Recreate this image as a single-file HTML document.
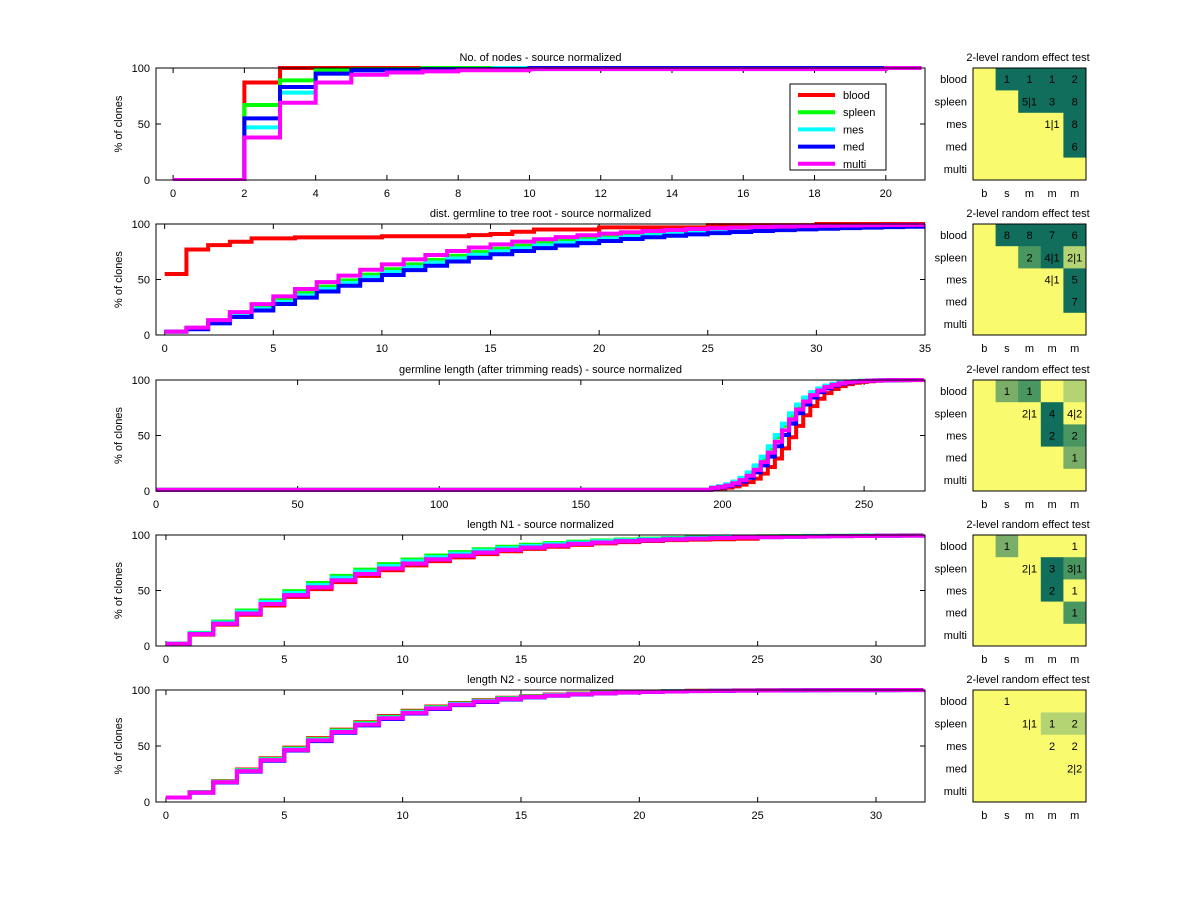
<!DOCTYPE html>
<html><head><meta charset="utf-8"><style>
body{margin:0;background:#fff;}
svg text{font-family:"Liberation Sans",sans-serif;font-size:11px;fill:#000;}
</style></head><body>
<svg id="s" width="1200" height="901" xmlns="http://www.w3.org/2000/svg"></svg>
<script>
const S=document.getElementById('s');let out='';
const cols={blood:'#ff0000',spleen:'#00ff00',mes:'#00ffff',med:'#0000ff',multi:'#ff00ff'};
const names=['blood','spleen','mes','med','multi'];
const panels=[
 {t:'No. of nodes - source normalized',y0:68,y1:180,xmin:-0.48,xmax:21.1,ticks:[0,2,4,6,8,10,12,14,16,18,20],x0:156,x1:925},
 {t:'dist. germline to tree root - source normalized',y0:224,y1:335,xmin:-0.4,xmax:35,ticks:[0,5,10,15,20,25,30,35]},
 {t:'germline length (after trimming reads) - source normalized',y0:380,y1:491,xmin:0,xmax:271.5,ticks:[0,50,100,150,200,250]},
 {t:'length N1 - source normalized',y0:535,y1:646,xmin:-0.42,xmax:32.07,ticks:[0,5,10,15,20,25,30]},
 {t:'length N2 - source normalized',y0:690,y1:802,xmin:-0.42,xmax:32.07,ticks:[0,5,10,15,20,25,30]}];
const X0=156,X1=925;
function wb(x,a,p){return 100*(1-Math.exp(-Math.pow(Math.max(x,0)/a,p)));}
const data=[
 {blood:[[0,0],[2,87],[3,100],[21,100]],
  spleen:[[0,0],[2,67],[3,89],[4,98],[5,99],[7,100],[21,100]],
  mes:[[0,0],[2,47],[3,78],[4,95],[5,98],[7,99],[9,100],[21,100]],
  med:[[0,0],[2,55],[3,83],[4,95],[5,98],[7,99],[10,100],[21,100]],
  multi:[[0,0],[2,38],[3,69],[4,87],[5,94],[6,96],[7,97],[8,98],[10,99],[20,100],[21,100]]},
 {blood:[[0,55],[1,77],[2,81],[3,84],[4,87],[6,88],[10,89],[14,90],[15,91],[16,93],[17,95],[20,97],[25,99],[30,100],[35,100]]},
 {},{},{}];
// generate others
[['spleen',11.2],['mes',11.8],['med',12.5],['multi',10.2]].forEach(([n,a])=>{let p=[];for(let x=0;x<=35;x++)p.push([x,Math.max(3,wb(x+0.3,a,1.3))]);data[1][n]=p;});
[['blood',224],['spleen',219],['mes',218.5],['med',221],['multi',220]].forEach(([n,m])=>{let p=[[0,1]];for(let x=196;x<=270;x+=2.5)p.push([x,1+99/(1+Math.exp(-(x-m)/6))]);p.push([271,100]);data[2][n]=p;});
[['blood',8.3],['spleen',7.3],['mes',7.6],['med',8.0],['multi',8.0]].forEach(([n,a])=>{let p=[];let xe=n=='blood'?25:32;for(let x=0;x<=xe;x++){let v=wb(x+0.3,a,1.2);if(n=='blood'&&x>=15)v=Math.min(v,93+(x-15)*0.4);p.push([x,v]);}data[3][n]=p;});
[['blood',7.1],['spleen',7.2],['mes',7.3],['med',7.5],['multi',7.4]].forEach(([n,a])=>{let p=[];for(let x=0;x<=32;x++)p.push([x,Math.max(4,wb(x+0.3,a,1.4))]);data[4][n]=p;});
panels.forEach((P,i)=>{
 const sx=x=>X0+(x-P.xmin)/(P.xmax-P.xmin)*(X1-X0);
 const sy=y=>P.y1-y/100*(P.y1-P.y0);
 out+=`<text x="${(X0+X1)/2}" y="${P.y0-7}" text-anchor="middle">${P.t}</text>`;
 out+=`<text transform="translate(122,${(P.y0+P.y1)/2}) rotate(-90)" text-anchor="middle">% of clones</text>`;
 [0,50,100].forEach(v=>{out+=`<text x="150" y="${sy(v)+4}" text-anchor="end">${v}</text><line x1="${X0}" x2="${X0+5}" y1="${sy(v)}" y2="${sy(v)}" stroke="#000"/><line x1="${X1}" x2="${X1-5}" y1="${sy(v)}" y2="${sy(v)}" stroke="#000"/>`;});
 P.ticks.forEach(t=>{const x=sx(t);out+=`<text x="${x}" y="${P.y1+17}" text-anchor="middle">${t}</text><line x1="${x}" x2="${x}" y1="${P.y1}" y2="${P.y1-5}" stroke="#000"/><line x1="${x}" x2="${x}" y1="${P.y0}" y2="${P.y0+5}" stroke="#000"/>`;});
 out+=`<defs><clipPath id="c${i}"><rect x="${X0}" y="${P.y0-3}" width="${X1-X0}" height="${P.y1-P.y0+4}"/></clipPath></defs><g clip-path="url(#c${i})">`;
 const order=['blood','spleen','mes','med','multi'];
 order.forEach(n=>{const p=data[i][n];if(!p)return;let d=`M${sx(p[0][0])},${sy(p[0][1])}`;for(let k=1;k<p.length;k++){d+=`H${sx(p[k][0])}V${sy(p[k][1])}`;}out+=`<path d="${d}" fill="none" stroke="${cols[n]}" stroke-width="4"/>`;});
 out+=`</g><rect x="${X0}" y="${P.y0}" width="${X1-X0}" height="${P.y1-P.y0}" fill="none" stroke="#000"/>`;
});
// legend
out+=`<rect x="790" y="84" width="96" height="86" fill="#fff" stroke="#000"/>`;
names.forEach((n,k)=>{const y=95+k*17.2;out+=`<line x1="798" x2="835" y1="${y}" y2="${y}" stroke="${cols[n]}" stroke-width="4"/><text x="843" y="${y+4}">${n}</text>`;});
// matrices
const C={Y:'#fafa6e',D:'#116e5c',M:'#4a9660',L:'#b4d474',N:'#7aae68'};
const mats=[
 [['Y','D1','D1','D1','D2'],['Y','Y','D5|1','D3','D8'],['Y','Y','Y','Y1|1','D8'],['Y','Y','Y','Y','D6'],['Y','Y','Y','Y','Y']],
 [['Y','D8','D8','D7','D6'],['Y','Y','M2','D4|1','L2|1'],['Y','Y','Y','Y4|1','D5'],['Y','Y','Y','Y','D7'],['Y','Y','Y','Y','Y']],
 [['Y','N1','M1','Y','L'],['Y','Y','Y2|1','D4','Y4|2'],['Y','Y','Y','D2','M2'],['Y','Y','Y','Y','N1'],['Y','Y','Y','Y','Y']],
 [['Y','N1','Y','Y','Y1'],['Y','Y','Y2|1','D3','M3|1'],['Y','Y','Y','D2','Y1'],['Y','Y','Y','Y','M1'],['Y','Y','Y','Y','Y']],
 [['Y','Y1','Y','Y','Y'],['Y','Y','Y1|1','L1','L2'],['Y','Y','Y','Y2','Y2'],['Y','Y','Y','Y','Y2|2'],['Y','Y','Y','Y','Y']]];
const MX0=973,MX1=1086,cw=(MX1-MX0)/5;
panels.forEach((P,i)=>{
 const rh=(P.y1-P.y0)/5;
 out+=`<text x="1028" y="${P.y0-7}" text-anchor="middle">2-level random effect test</text>`;
 mats[i].forEach((row,r)=>{row.forEach((c,j)=>{const x=MX0+j*cw,y=P.y0+r*rh;out+=`<rect x="${x}" y="${y}" width="${cw+0.5}" height="${rh+0.5}" fill="${C[c[0]]}"/>`;const t=c.slice(1);if(t)out+=`<text x="${x+cw/2}" y="${y+rh/2+4}" text-anchor="middle">${t}</text>`;});
  out+=`<text x="967" y="${P.y0+r*rh+rh/2+4}" text-anchor="end">${names[r]}</text>`;});
 ['b','s','m','m','m'].forEach((l,j)=>{out+=`<text x="${MX0+j*cw+cw/2}" y="${P.y1+17}" text-anchor="middle">${l}</text>`;});
 out+=`<rect x="${MX0}" y="${P.y0}" width="${MX1-MX0}" height="${P.y1-P.y0}" fill="none" stroke="#000"/>`;
});
S.innerHTML=out;
</script>
</body></html>
